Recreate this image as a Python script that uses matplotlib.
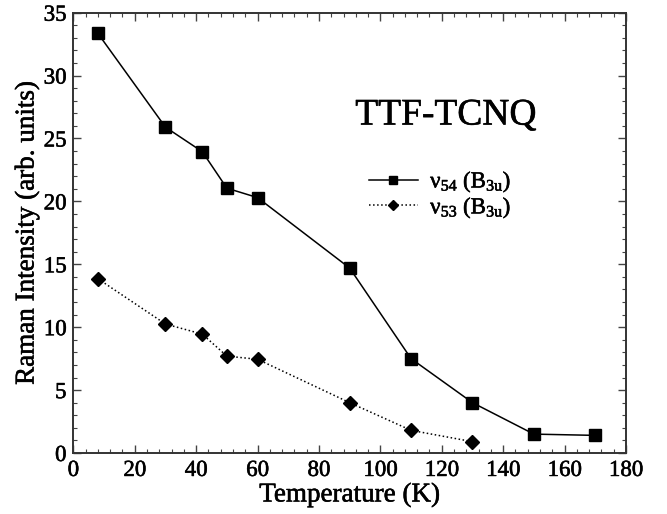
import matplotlib
matplotlib.use("Agg")
import matplotlib.pyplot as plt
import matplotlib.patheffects as pe
from matplotlib.ticker import MultipleLocator

temp54 = [8, 30, 42, 50, 60, 90, 110, 130, 150, 170]
int54 = [33.35, 25.9, 23.95, 21.05, 20.3, 14.7, 7.5, 4.0, 1.5, 1.4]
temp53 = [8, 30, 42, 50, 60, 90, 110, 130]
int53 = [13.85, 10.25, 9.45, 7.7, 7.45, 4.0, 1.8, 0.9]
label54 = 'ν$_{54}$ (B$_{3\\mathrm{u}}$)'
label53 = 'ν$_{53}$ (B$_{3\\mathrm{u}}$)'

plt.rcParams['font.family'] = ['Liberation Serif', 'DejaVu Serif']
plt.rcParams['mathtext.fontset'] = 'custom'
plt.rcParams['mathtext.rm'] = 'Liberation Serif'
plt.rcParams['mathtext.it'] = 'Liberation Serif:italic'
plt.rcParams['mathtext.bf'] = 'Liberation Serif:bold'

thick = [pe.withStroke(linewidth=0.4, foreground='black')]

fig = plt.figure(figsize=(6.67, 5.14), dpi=100)
ax = fig.add_axes([0.110, 0.1187, 0.8285, 0.8566])

ax.plot(temp54, int54, '-', color='black', lw=1.1, marker='s', ms=8, label=label54)
ax.plot(temp53, int53, ':', color='black', lw=1.1, marker='D', ms=7, label=label53)

ax.set_xlim(0, 180)
ax.set_ylim(0, 35)
ax.xaxis.set_major_locator(MultipleLocator(20))
ax.xaxis.set_minor_locator(MultipleLocator(4))
ax.yaxis.set_major_locator(MultipleLocator(5))
ax.yaxis.set_minor_locator(MultipleLocator(1))
ax.tick_params(which='both', direction='in', top=True, right=True, color='#444444')
ax.tick_params(which='major', length=6, width=1.0, labelsize=16.5, pad=5)
ax.tick_params(which='minor', length=3, width=0.8)
for s in ax.spines.values():
    s.set_linewidth(1.4)
    s.set_color('#333333')

ax.set_xlabel('Temperature (K)', fontsize=19.5, labelpad=1)
ax.set_ylabel('Raman Intensity (arb. units)', fontsize=19.5, labelpad=3)

ax.text(0.674, 0.767, 'TTF-TCNQ', transform=ax.transAxes, fontsize=27,
        ha='center', va='center', path_effects=thick)

leg = ax.legend(loc='upper left', bbox_to_anchor=(0.515, 0.672), frameon=False,
                fontsize=16.5, handlelength=2.1, handletextpad=0.55, labelspacing=0.0,
                borderpad=0, markerscale=0.75)

for t in (ax.get_xticklabels() + ax.get_yticklabels()
          + [ax.xaxis.label, ax.yaxis.label] + leg.get_texts()):
    t.set_path_effects(thick)

fig.savefig('out.png', dpi=100)
